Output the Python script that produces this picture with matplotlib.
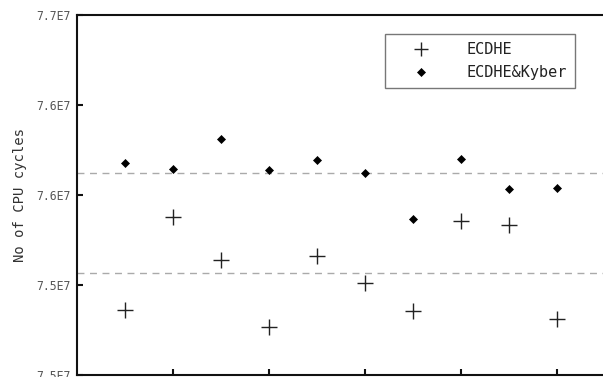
import numpy as np
import matplotlib
matplotlib.use("Agg")
import matplotlib.pyplot as plt

x_pos = [0.5, 1.0, 1.5, 2.0, 2.5, 3.0, 3.5, 4.0, 4.5, 5.0]
ecdhe = [7.5361e7, 7.5878e7, 7.5640e7, 7.5265e7, 7.5662e7,
         7.5512e7, 7.5357e7, 7.5854e7, 7.5834e7, 7.5309e7]
ecdhe_kyber = [7.6176e7, 7.6141e7, 7.6308e7, 7.6136e7, 7.6193e7,
               7.6119e7, 7.5867e7, 7.6198e7, 7.6032e7, 7.6037e7]
y_ticks = [7.50e7, 7.55e7, 7.60e7, 7.65e7, 7.70e7]
y_tick_labels = ["7.5E7", "7.5E7", "7.6E7", "7.6E7", "7.7E7"]
x_ticks = [1, 2, 3, 4, 5]
series_names = ["ECDHE", "ECDHE&Kyber"]

mono = "DejaVu Sans Mono"
fig = plt.figure(figsize=(6.03, 3.77), dpi=100)
ax = fig.add_axes([0.1269, 0.0053, 0.876, 0.9562])

ax.axhline(np.mean(ecdhe_kyber), color="#aaaaaa", lw=1, ls=(0, (5, 4)), zorder=1)
ax.axhline(np.mean(ecdhe), color="#aaaaaa", lw=1, ls=(0, (5, 4)), zorder=1)

ax.plot(x_pos, ecdhe, ls="none", marker="+", ms=11, mew=1.0, color="#222222",
        label=series_names[0], zorder=3)
ax.plot(x_pos, ecdhe_kyber, ls="none", marker="D", ms=4, mew=0.5, color="#000000",
        label=series_names[1], zorder=3)

ax.set_xlim(0, 5.5)
ax.set_ylim(7.50e7, 7.70e7)
ax.set_yticks(y_ticks)
ax.set_yticklabels(y_tick_labels, family=mono, fontsize=8.3, color="#555555")
ax.set_xticks(x_ticks)
ax.set_xticklabels([])
ax.tick_params(axis="both", direction="in", length=4, width=1.5, color="#111111")
ax.tick_params(axis="y", pad=4)

for s in ["left", "bottom", "top"]:
    ax.spines[s].set_linewidth(1.5)
    ax.spines[s].set_color("#111111")
ax.spines["right"].set_visible(False)

ax.set_ylabel("No of CPU cycles", family=mono, fontsize=10, color="#333333", labelpad=7)

leg = ax.legend(loc="upper right", bbox_to_anchor=(0.9438, 0.9459), prop={"family": mono, "size": 11},
                frameon=True, fancybox=False, edgecolor="#555555", borderpad=0.55,
                handlelength=3.7, handletextpad=1.1, labelspacing=0.5, borderaxespad=0,
                markerscale=0.9)
leg.get_frame().set_linewidth(1.0)
for t in leg.get_texts():
    t.set_color("#222222")

fig.savefig("out.png", dpi=100)
